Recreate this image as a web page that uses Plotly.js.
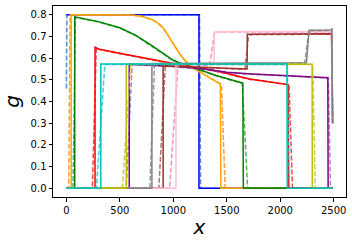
<!DOCTYPE html>
<html>
<head>
<meta charset="utf-8">
<script src="https://cdn.plot.ly/plotly-3.0.1.min.js"></script>
<style>html,body{margin:0;padding:0;background:#fff;}#chart{width:352px;height:244px;}</style>
</head>
<body>
<div id="chart"></div>
<script>
// ---- data ----
const xTicks = [0, 500, 1000, 1500, 2000, 2500];
const yTicks = [0.0, 0.1, 0.2, 0.3, 0.4, 0.5, 0.6, 0.7, 0.8];

const blueX  = [0, 1240, 1240, 2490];
const blueY  = [0.8, 0.8, 0, 0];
const blueDX = [0, 5, 1245, 1255, 2490];
const blueDY = [0.46, 0.8, 0.8, 0, 0];

const orangeX  = [0, 45, 45, 200, 500, 600, 700, 800, 850, 900, 950, 1000, 1050, 1100, 1150, 1200, 1300, 1440, 1445, 2490];
const orangeY  = [0, 0, 0.8, 0.8, 0.8, 0.799, 0.793, 0.778, 0.763, 0.742, 0.706, 0.666, 0.627, 0.594, 0.569, 0.55, 0.522, 0.48, 0, 0];
const orangeDX = [0, 22, 35, 200, 500, 600, 700, 800, 850, 900, 950, 1000, 1050, 1100, 1150, 1200, 1300, 1450, 1485, 2490];
const orangeDY = [0, 0, 0.8, 0.8, 0.8, 0.799, 0.793, 0.778, 0.763, 0.742, 0.706, 0.666, 0.627, 0.594, 0.569, 0.55, 0.522, 0.478, 0, 0];

const greenX  = [0, 78, 78, 100, 300, 500, 650, 800, 900, 1000, 1100, 1200, 1400, 1650, 1655, 2490];
const greenY  = [0, 0, 0.79, 0.788, 0.768, 0.74, 0.705, 0.657, 0.622, 0.59, 0.57, 0.555, 0.52, 0.485, 0, 0];
const greenDX = [0, 62, 85, 100, 300, 500, 650, 800, 900, 1000, 1100, 1200, 1400, 1645, 1695, 2490];
const greenDY = [0, 0, 0.788, 0.786, 0.766, 0.738, 0.703, 0.655, 0.62, 0.588, 0.568, 0.553, 0.518, 0.483, 0, 0];

const redX  = [0, 268, 268, 300, 500, 700, 1000, 1300, 1500, 1700, 1900, 2075, 2078, 2490];
const redY  = [0, 0, 0.65, 0.642, 0.622, 0.602, 0.575, 0.55, 0.53, 0.505, 0.49, 0.478, 0, 0];
const redDX = [0, 243, 280, 300, 500, 700, 1000, 1300, 1500, 1700, 1900, 2082, 2115, 2490];
const redDY = [0, 0, 0.648, 0.64, 0.62, 0.6, 0.573, 0.548, 0.528, 0.503, 0.488, 0.476, 0, 0];

const purpleX  = [0, 588, 588, 800, 1000, 1300, 1500, 1700, 2000, 2200, 2445, 2448, 2490];
const purpleY  = [0, 0, 0.572, 0.568, 0.562, 0.55, 0.535, 0.528, 0.52, 0.515, 0.51, 0, 0];
const purpleDX = [0, 560, 615, 800, 1000, 1300, 1500, 1700, 2000, 2200, 2450, 2470, 2490];
const purpleDY = [0, 0, 0.57, 0.566, 0.56, 0.548, 0.533, 0.526, 0.518, 0.513, 0.508, 0, 0];

const brownX  = [0, 905, 905, 1200, 1500, 1690, 1692, 2000, 2480, 2490];
const brownY  = [0, 0, 0.565, 0.56, 0.553, 0.55, 0.71, 0.712, 0.712, 0.3];
const brownDX = [0, 865, 925, 1200, 1500, 1670, 1705, 2000, 2480, 2490];
const brownDY = [0, 0, 0.563, 0.558, 0.551, 0.548, 0.708, 0.71, 0.71, 0.3];

const pinkX  = [0, 1025, 1025, 1200, 1380, 1385, 1600, 2000, 2480, 2490];
const pinkY  = [0, 0, 0.572, 0.572, 0.572, 0.72, 0.722, 0.722, 0.722, 0.3];
const pinkDX = [0, 965, 1045, 1200, 1340, 1385, 1600, 2000, 2482, 2490];
const pinkDY = [0, 0, 0.57, 0.57, 0.565, 0.72, 0.72, 0.72, 0.72, 0.3];

const grayX  = [0, 800, 800, 1200, 1800, 2245, 2270, 2478, 2482, 2490];
const grayY  = [0, 0, 0.575, 0.575, 0.575, 0.578, 0.728, 0.73, 0.738, 0.3];
const grayDX = [0, 780, 825, 1200, 1800, 2228, 2268, 2478, 2482, 2490];
const grayDY = [0, 0, 0.573, 0.573, 0.573, 0.576, 0.726, 0.728, 0.736, 0.3];

const oliveX  = [0, 560, 560, 1500, 2298, 2300, 2490];
const oliveY  = [0, 0, 0.572, 0.572, 0.572, 0, 0];
const oliveDX = [0, 524, 600, 1500, 2305, 2327, 2490];
const oliveDY = [0, 0, 0.57, 0.57, 0.57, 0, 0];

const cyanX  = [0, 322, 322, 1500, 2063, 2065, 2490];
const cyanY  = [0, 0, 0.573, 0.573, 0.573, 0, 0];
const cyanDX = [0, 281, 360, 1500, 2066, 2085, 2490];
const cyanDY = [0, 0, 0.571, 0.571, 0.571, 0, 0];

// ---- styles ----
const series = [
  [blueX, blueY, blueDX, blueDY, '#0000ff', '#1f77b4'],
  [orangeX, orangeY, orangeDX, orangeDY, '#ffa500', '#ff7f0e'],
  [greenX, greenY, greenDX, greenDY, '#008000', '#2ca02c'],
  [redX, redY, redDX, redDY, '#ff0000', '#d62728'],
  [purpleX, purpleY, purpleDX, purpleDY, '#800080', '#9467bd'],
  [brownX, brownY, brownDX, brownDY, '#a52a2a', '#8c564b'],
  [pinkX, pinkY, pinkDX, pinkDY, '#ffc0cb', '#e377c2'],
  [grayX, grayY, grayDX, grayDY, '#808080', '#7f7f7f'],
  [oliveX, oliveY, oliveDX, oliveDY, '#bfbf00', '#bcbd22'],
  [cyanX, cyanY, cyanDX, cyanDY, '#00bfbf', '#17becf']
];

const traces = [];
series.forEach(s => {
  traces.push({x: s[2], y: s[3], mode: 'lines', type: 'scatter',
    line: {color: s[5], width: 1.5, dash: '5px,2px'}, opacity: 0.8, hoverinfo: 'skip'});
  traces.push({x: s[0], y: s[1], mode: 'lines', type: 'scatter',
    line: {color: s[4], width: 1.5}, hoverinfo: 'skip'});
});

const axisCommon = {
  showline: true, mirror: true, linecolor: '#000', linewidth: 1,
  ticks: 'outside', ticklen: 3.5, tickwidth: 1, tickcolor: '#000',
  showgrid: false, zeroline: false,
  tickfont: {family: 'DejaVu Sans', size: 10, color: '#000'}
};

const layout = {
  width: 352, height: 244,
  margin: {l: 53, r: 6, t: 6, b: 47},
  paper_bgcolor: '#fff', plot_bgcolor: '#fff',
  showlegend: false,
  font: {family: 'DejaVu Sans', color: '#000'},
  xaxis: Object.assign({}, axisCommon, {
    range: [-125, 2615], tickvals: xTicks, ticktext: xTicks.map(String),
    title: {text: '<i>x</i>', font: {family: 'DejaVu Sans', size: 20, color: '#000'}, standoff: 5}
  }),
  yaxis: Object.assign({}, axisCommon, {
    range: [-0.04, 0.84], tickvals: yTicks, ticktext: yTicks.map(v => v.toFixed(1)),
    title: {text: '<i>g</i>', font: {family: 'DejaVu Sans', size: 20, color: '#000'}, standoff: 6}
  })
};

Plotly.newPlot('chart', traces, layout, {staticPlot: true, displayModeBar: false});
</script>
</body>
</html>
